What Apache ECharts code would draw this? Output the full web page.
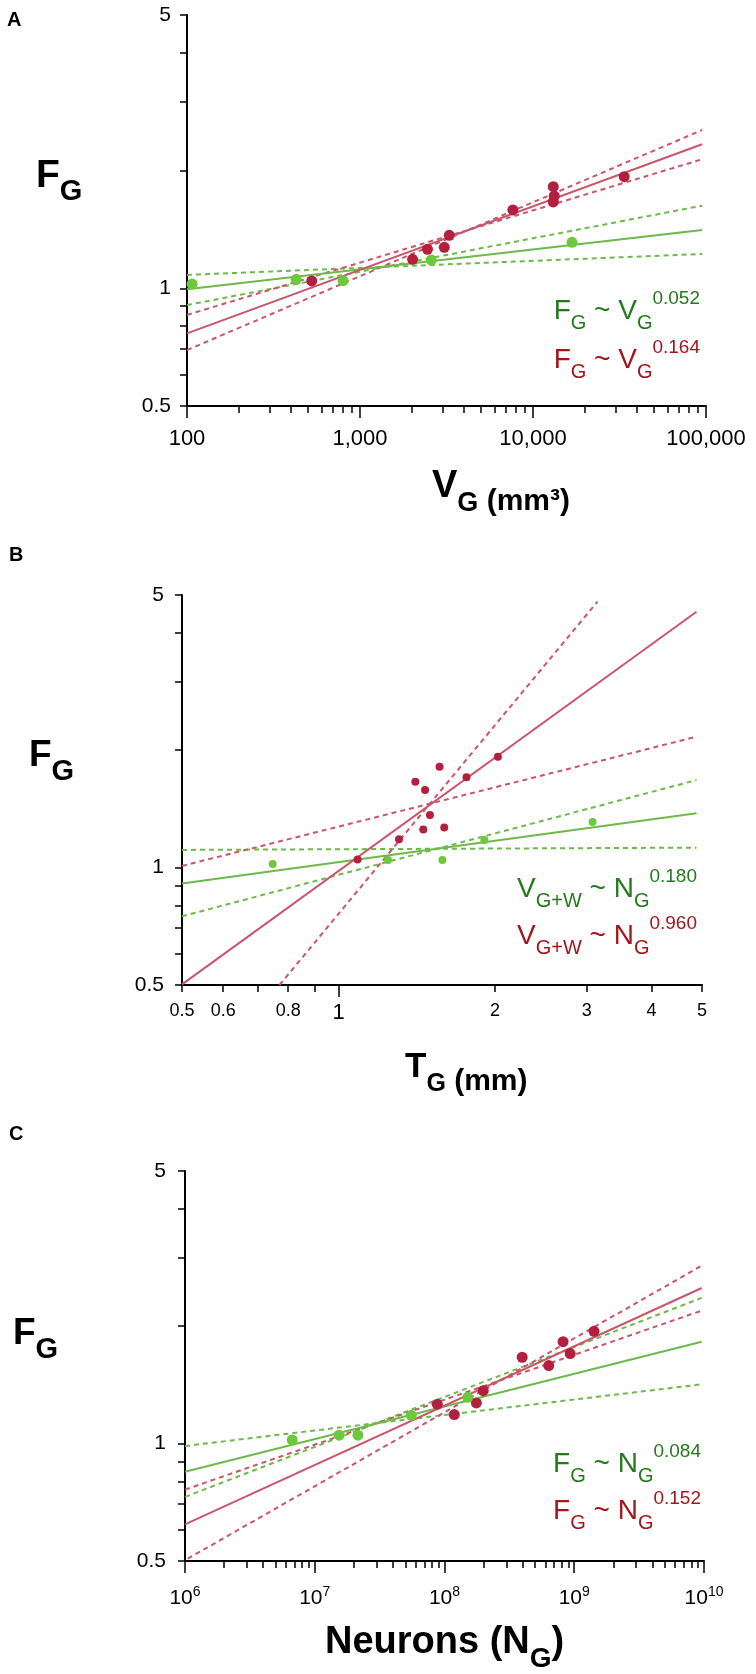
<!DOCTYPE html>
<html><head><meta charset="utf-8">
<script src="https://cdn.jsdelivr.net/npm/echarts@6/dist/echarts.min.js"></script>
<style>html,body{margin:0;padding:0;background:#fff}#c{width:756px;height:1674px}</style>
</head><body><div id="c"></div>
<script>
// ---------- Panel A : F_G vs V_G (mm3) ----------
const aGreenV = [107, 428, 798, 2583, 16800];
const aGreenF = [1.026, 1.054, 1.046, 1.181, 1.311];
const aRedV = [526, 2014, 2455, 3070, 3280, 7650, 13100, 13270, 13100, 33650];
const aRedF = [1.044, 1.186, 1.258, 1.273, 1.366, 1.586, 1.819, 1.722, 1.663, 1.930];
const aGreenFitV = [100, 95000];       const aGreenFitF = [0.994, 1.41];
const aGreenFlatV = [100, 95000];      const aGreenFlatF = [1.082, 1.224];
const aGreenSteepV = [100, 95000];     const aGreenSteepF = [0.906, 1.627];
const aRedFitV = [100, 95000];         const aRedFitF = [0.767, 2.335];
const aRedFlatV = [100, 95000];        const aRedFlatF = [0.855, 2.138];
const aRedSteepV = [100, 95000];       const aRedSteepF = [0.695, 2.54];
const aXMajor = [100, 1000, 10000, 100000];
const aXMinor = [200,300,400,500,600,700,800,900,2000,3000,4000,5000,6000,7000,8000,9000,20000,30000,40000,50000,60000,70000,80000,90000];

// ---------- Panel B : F_G vs T_G (mm) ----------
const bGreenT = [0.747, 1.245, 1.584, 1.907, 3.08];
const bGreenF = [1.021, 1.046, 1.046, 1.177, 1.309];
const bRedT = [1.088, 1.307, 1.405, 1.467, 1.455, 1.499, 1.564, 1.597, 1.762, 2.025];
const bRedF = [1.049, 1.182, 1.661, 1.581, 1.253, 1.364, 1.815, 1.268, 1.704, 1.925];
const bGreenFitT = [0.5, 4.88];        const bGreenFitF = [0.911, 1.378];
const bGreenFlatT = [0.5, 4.88];       const bGreenFlatF = [1.11, 1.125];
const bGreenSteepT = [0.5, 4.88];      const bGreenSteepF = [0.75, 1.677];
const bRedFitT = [0.5, 4.88];          const bRedFitF = [0.502, 4.53];
const bRedSteepT = [0.770, 3.148];     const bRedSteepF = [0.5, 4.81];
const bRedFlatT = [0.5, 4.88];         const bRedFlatF = [1.01, 2.166];
const bXTicks = [0.5, 0.6, 0.7, 0.8, 0.9, 2, 3, 4, 5];
const bXLong = [1];
const bXLabels = [0.5, 0.6, 0.8, 1, 2, 3, 4, 5];

// ---------- Panel C : F_G vs Neurons (N_G) ----------
const cGreenN = [6.7e6, 1.54e7, 2.15e7, 5.55e7, 1.51e8];
const cGreenF = [1.022, 1.051, 1.051, 1.182, 1.314];
const cRedN = [8.8e7, 1.19e8, 1.76e8, 1.99e8, 3.97e8, 6.36e8, 8.2e8, 9.3e8, 1.42e9];
const cRedF = [1.262, 1.187, 1.271, 1.367, 1.665, 1.585, 1.825, 1.701, 1.941];
const cGreenFitN = [1e6, 9.6e9];    const cGreenFitF = [0.847, 1.825];
const cGreenFlatN = [1e6, 9.6e9];   const cGreenFlatF = [0.986, 1.419];
const cGreenSteepN = [1e6, 9.6e9];  const cGreenSteepF = [0.730, 2.364];
const cRedFitN = [1e6, 9.6e9];      const cRedFitF = [0.621, 2.506];
const cRedFlatN = [1e6, 9.6e9];     const cRedFlatF = [0.762, 2.193];
const cRedSteepN = [1.05e6, 9.6e9]; const cRedSteepF = [0.507, 2.859];
const cXMajor = [1e6, 1e7, 1e8, 1e9, 1e10];
const cXMinor = [2e6,3e6,4e6,5e6,6e6,7e6,8e6,9e6,2e7,3e7,4e7,5e7,6e7,7e7,8e7,9e7,2e8,3e8,4e8,5e8,6e8,7e8,8e8,9e8,2e9,3e9,4e9,5e9,6e9,7e9,8e9,9e9];

// ---------- shared y axis ----------
const yTicks = [0.5, 0.6, 0.7, 0.8, 0.9, 1, 2, 3, 4, 5];
const yLabels = [0.5, 1, 5];

const FONT = '"Liberation Sans", Arial, Helvetica, sans-serif';
const RED_PT = '#b3203e', RED_LN = '#c9566a', GREEN_PT = '#6cc93e', GREEN_LN = '#6dba4b';
const TXT_G = '#247a1c', TXT_R = '#a3161c';

const pts = (xs, ys) => xs.map((x, i) => [x, ys[i]]);
const commas = v => String(Math.round(v)).replace(/\B(?=(\d{3})+(?!\d))/g, ',');

function yAx(g, margin) {
  return { gridIndex: g, type: 'log', logBase: 10, min: 0.5, max: 5,
    axisLine: { show: true, lineStyle: { color: '#000', width: 2 } },
    axisTick: { show: true, length: 7, customValues: yTicks, lineStyle: { color: '#000', width: 1.5 } },
    axisLabel: { show: true, customValues: yLabels, margin: margin, color: '#000', fontSize: 21, fontFamily: FONT,
      formatter: v => String(+(+v).toPrecision(3)) },
    splitLine: { show: false } };
}
function xAx(g, min, max, ticks, tlen, labels, fmt, margin, rich, showLine, fs) {
  return { gridIndex: g, type: 'log', logBase: 10, min: min, max: max, position: 'bottom',
    axisLine: { show: showLine, lineStyle: { color: '#000', width: 2 } },
    axisTick: { show: true, length: tlen, customValues: ticks, lineStyle: { color: '#000', width: 1.5 } },
    axisLabel: labels ? { show: true, customValues: labels, margin: margin, color: '#000', fontSize: fs || 22, fontFamily: FONT,
      formatter: fmt, rich: rich } : { show: false },
    splitLine: { show: false } };
}

function scat(ax, xs, ys, color, size) {
  return { type: 'scatter', xAxisIndex: ax, yAxisIndex: ax / 2 | 0, data: pts(xs, ys), symbolSize: size,
    itemStyle: { color: color, opacity: 1 }, z: 5, silent: true };
}
function ln(ax, xs, ys, color, dashed) {
  return { type: 'line', xAxisIndex: ax, yAxisIndex: ax / 2 | 0, data: pts(xs, ys), symbol: 'none', showSymbol: false,
    lineStyle: { color: color, width: 2, type: dashed ? [5, 4] : 'solid' }, z: 3, silent: true };
}

function rt(x, y, tokens, styles, align) {
  return { type: 'text', z: 100, silent: true,
    style: { x: x, y: y, text: tokens.map(t => '{' + t[0] + '|' + t[1] + '}').join(''), rich: styles,
      align: align || 'left', verticalAlign: 'middle' } };
}
function eqStyles(color) {
  return {
    m: { fontSize: 28, fontFamily: FONT, fill: color, lineHeight: 44, verticalAlign: 'middle' },
    b: { fontSize: 20, fontFamily: FONT, fill: color, lineHeight: 20, verticalAlign: 'bottom' },
    p: { fontSize: 19, fontFamily: FONT, fill: color, lineHeight: 34, verticalAlign: 'top' }
  };
}
function titleStyles(main, sub, paren) {
  return {
    m: { fontSize: main, fontWeight: 'bold', fontFamily: FONT, fill: '#000', lineHeight: 60, verticalAlign: 'middle' },
    b: { fontSize: sub, fontWeight: 'bold', fontFamily: FONT, fill: '#000', lineHeight: 28, verticalAlign: 'bottom' },
    q: { fontSize: paren, fontWeight: 'bold', fontFamily: FONT, fill: '#000', lineHeight: 54, verticalAlign: 'bottom' }
  };
}
const labelStyle = { m: { fontSize: 20, fontWeight: 'bold', fontFamily: FONT, fill: '#000' } };

const option = {
  animation: false,
  backgroundColor: '#fff',
  grid: [
    { left: 187, top: 15, width: 519, height: 391 },
    { left: 182, top: 595, width: 520, height: 390 },
    { left: 185, top: 1171, width: 519, height: 390 }
  ],
  xAxis: [
    xAx(0, 100, 100000, aXMajor, 12, aXMajor, commas, 22, null, true),
    xAx(0, 100, 100000, aXMinor, 7, null, null, 0, null, false),
    xAx(1, 0.5, 5, bXTicks, 7, bXLabels, v => (+v === 1 ? '{big|1}' : String(+(+v).toPrecision(3))), 17,
      { big: { fontSize: 22, fontFamily: FONT, color: '#000' } }, true, 18),
    xAx(1, 0.5, 5, bXLong, 12, null, null, 0, null, false),
    xAx(2, 1e6, 1e10, cXMajor, 12, cXMajor, v => '{b|10}{s|' + Math.round(Math.log10(v)) + '}', 24,
      { b: { fontSize: 21, fontFamily: FONT, color: '#000', lineHeight: 24, verticalAlign: 'bottom' },
        s: { fontSize: 14, fontFamily: FONT, color: '#000', lineHeight: 14, verticalAlign: 'top' } }, true),
    xAx(2, 1e6, 1e10, cXMinor, 7, null, null, 0, null, false)
  ],
  yAxis: [yAx(0, 16), yAx(1, 18), yAx(2, 19)],
  series: [
    ln(0, aGreenFlatV, aGreenFlatF, GREEN_LN, true), ln(0, aGreenSteepV, aGreenSteepF, GREEN_LN, true),
    ln(0, aRedFlatV, aRedFlatF, RED_LN, true), ln(0, aRedSteepV, aRedSteepF, RED_LN, true),
    ln(0, aGreenFitV, aGreenFitF, GREEN_LN, false), ln(0, aRedFitV, aRedFitF, RED_LN, false),
    scat(0, aRedV, aRedF, RED_PT, 11), scat(0, aGreenV, aGreenF, GREEN_PT, 11),

    ln(2, bGreenFlatT, bGreenFlatF, GREEN_LN, true), ln(2, bGreenSteepT, bGreenSteepF, GREEN_LN, true),
    ln(2, bRedSteepT, bRedSteepF, RED_LN, true), ln(2, bRedFlatT, bRedFlatF, RED_LN, true),
    ln(2, bGreenFitT, bGreenFitF, GREEN_LN, false), ln(2, bRedFitT, bRedFitF, RED_LN, false),
    scat(2, bRedT, bRedF, RED_PT, 8), scat(2, bGreenT, bGreenF, GREEN_PT, 8),

    ln(4, cGreenFlatN, cGreenFlatF, GREEN_LN, true), ln(4, cGreenSteepN, cGreenSteepF, GREEN_LN, true),
    ln(4, cRedFlatN, cRedFlatF, RED_LN, true), ln(4, cRedSteepN, cRedSteepF, RED_LN, true),
    ln(4, cGreenFitN, cGreenFitF, GREEN_LN, false), ln(4, cRedFitN, cRedFitF, RED_LN, false),
    scat(4, cRedN, cRedF, RED_PT, 11), scat(4, cGreenN, cGreenF, GREEN_PT, 11)
  ],
  graphic: [
    rt(7, 20, [['m', 'A']], labelStyle),
    rt(9, 555, [['m', 'B']], labelStyle),
    rt(9, 1134, [['m', 'C']], labelStyle),

    rt(36, 176, [['m', 'F'], ['b', 'G']], titleStyles(39, 29, 27)),
    rt(29, 756, [['m', 'F'], ['b', 'G']], titleStyles(37, 29, 27)),
    rt(13, 1334, [['m', 'F'], ['b', 'G']], titleStyles(37, 29, 27)),

    rt(432, 487, [['m', 'V'], ['b', 'G'], ['q', ' (mm\u00B3)']], titleStyles(38, 27, 30)),
    rt(405, 1067, [['m', 'T'], ['b', 'G'], ['q', ' (mm)']], titleStyles(35, 25, 30)),
    rt(325, 1643, [['m', 'Neurons (N'], ['b', 'G'], ['m', ')']], titleStyles(38, 28, 27)),

    rt(700, 311.7, [['m', 'F'], ['b', 'G'], ['m', ' ~ V'], ['b', 'G'], ['p', '0.052']], eqStyles(TXT_G), 'right'),
    rt(700, 360, [['m', 'F'], ['b', 'G'], ['m', ' ~ V'], ['b', 'G'], ['p', '0.164']], eqStyles(TXT_R), 'right'),
    rt(697, 889.7, [['m', 'V'], ['b', 'G+W'], ['m', ' ~ N'], ['b', 'G'], ['p', '0.180']], eqStyles(TXT_G), 'right'),
    rt(697, 936.7, [['m', 'V'], ['b', 'G+W'], ['m', ' ~ N'], ['b', 'G'], ['p', '0.960']], eqStyles(TXT_R), 'right'),
    rt(701, 1464, [['m', 'F'], ['b', 'G'], ['m', ' ~ N'], ['b', 'G'], ['p', '0.084']], eqStyles(TXT_G), 'right'),
    rt(701, 1511.5, [['m', 'F'], ['b', 'G'], ['m', ' ~ N'], ['b', 'G'], ['p', '0.152']], eqStyles(TXT_R), 'right')
  ]
};

const chart = echarts.init(document.getElementById('c'), null, { renderer: 'canvas', width: 756, height: 1674 });
chart.setOption(option);
</script>
</body></html>
